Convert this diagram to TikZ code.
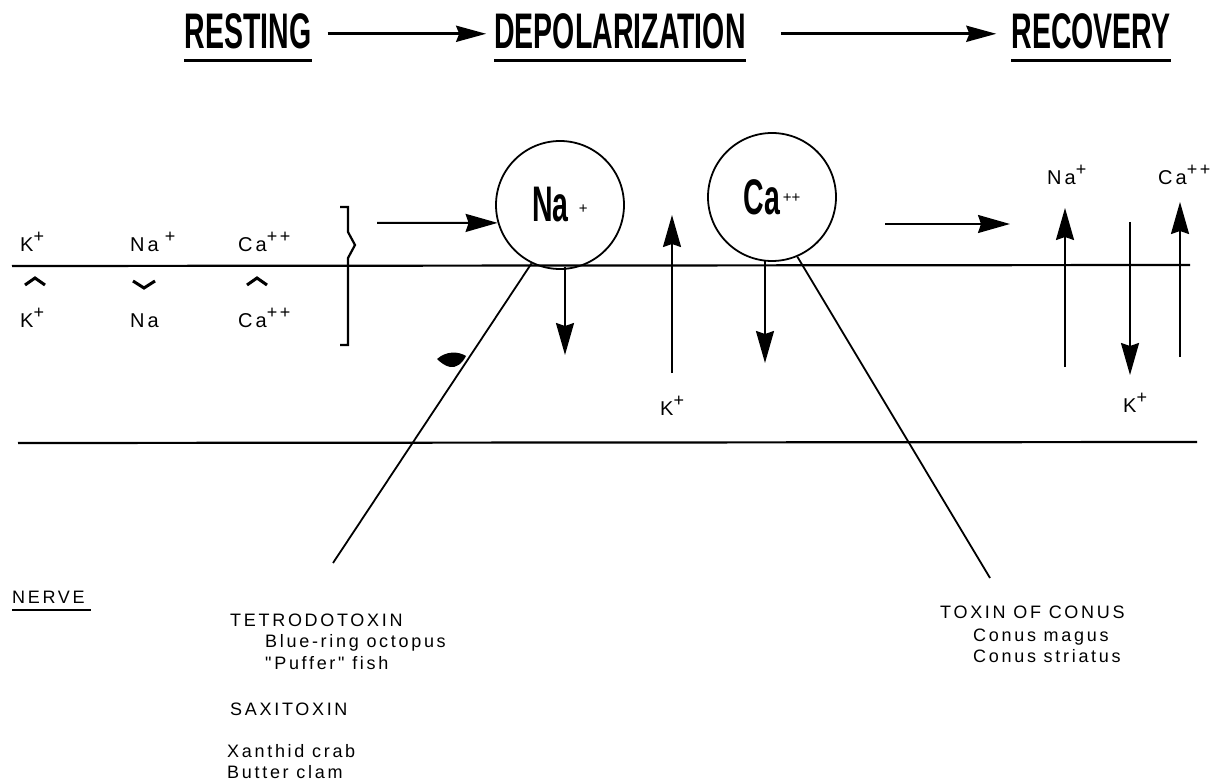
\documentclass[tikz,border=0pt]{standalone}
\usepackage{graphicx}
\usepackage{fontspec}
\setmainfont{Liberation Sans}
\newfontfamily\lblfont[LetterSpace=15]{Liberation Sans}
\usetikzlibrary{arrows.meta}
\newcommand{\cond}[1]{\scalebox{0.57}[1]{\fontsize{50}{50}\selectfont\bfseries #1}}
\newcommand{\chg}[1]{\raisebox{9pt}{\fontsize{18}{18}\selectfont #1}}

\begin{document}
\begin{tikzpicture}[
    x=1pt, y=-1pt,
    phase/.style={inner sep=0pt, anchor=base},
    ion/.style={font=\lblfont\fontsize{20}{20}\selectfont, inner sep=0pt, anchor=base west},
    note/.style={font=\lblfont\fontsize{18}{21}\selectfont, inner sep=0pt, anchor=base west},
    chan/.style={circle, draw, line width=1.8pt, minimum size=128pt, inner sep=0pt},
    head/.style={-{Stealth[length=30pt, width=16pt, inset=3pt]}, line width=3pt},
    flux/.style={-{Stealth[length=32pt, width=18pt, inset=3pt]}, line width=2pt},
    mem/.style={line width=2.2pt},
    uline/.style={line width=2.5pt},
    toxline/.style={line width=1.8pt},
    caret/.style={line width=3pt}
]
    \useasboundingbox (0,0) rectangle (1212,783);

    \node[phase] (rest) at (248,49) {\cond{RESTING}};
    \node[phase] (depol) at (620,49) {\cond{DEPOLARIZATION}};
    \node[phase] (recov) at (1091,49) {\cond{RECOVERY}};

    \draw[head] ([xshift=16pt, yshift=-2pt]rest.east) -- ([xshift=-8pt, yshift=-2pt]depol.west);
    \draw[head] ([xshift=35pt, yshift=-2pt]depol.east) -- ([xshift=-15pt, yshift=-2pt]recov.west);
    \foreach \p in {rest, depol, recov}
        \draw[uline] ([yshift=-11pt]\p.south west) -- ([yshift=-11pt]\p.south east);

    \coordinate (m1L) at (12,266);
    \coordinate (m1R) at (1190,265);
    \coordinate (m2L) at (18,443);
    \coordinate (m2R) at (1197,442);
    \draw[mem] (m1L) -- (m1R);
    \draw[mem] (m2L) -- (m2R);

    \node[ion] (kIn) at (20,252) {K\chg{+}};
    \node[ion] (naIn) at (130,252) {Na\hspace{6pt}\chg{+}};
    \node[ion] (caIn) at (238,252) {Ca\chg{++}};
    \node[ion] (kOut) at (20,327) {K\chg{+}};
    \node[ion] (naOut) at (130,327) {Na};
    \node[ion] (caOut) at (238,327) {Ca\chg{++}};
    \draw[caret] (25,285) -- (35,278) -- (45,285);
    \draw[caret] (133,281) -- (144,288) -- (155,281);
    \draw[caret] (247,285) -- (257,278) -- (267,285);

    \draw[mem] (340,207) -- (348,207) -- (348,232) -- (355,245) -- (348,258) -- (348,345) -- (340,345);

    \node[chan] (na) at (560,205) {\cond{Na}\hspace{10pt}\raisebox{8pt}{\fontsize{15}{15}\selectfont +}\hspace{8pt}};
    \node[chan] (ca) at (772,197) {\cond{Ca}\hspace{3pt}\raisebox{12pt}{\fontsize{15}{15}\selectfont ++}};

    \coordinate (toNa) at (377,223);
    \draw[flux] (toNa) -- (na.196);
    \draw[flux] (565,267) -- (565,355);
    \draw[flux] (672,373) -- (672,215);
    \node[ion] (kMid) at (660,415) {K\chg{+}};
    \draw[flux] (765,261) -- (765,363);

    \draw[flux] (885,224) -- (1010,224);
    \draw[flux] (1065,367) -- (1065,208);
    \draw[flux] (1130,222) -- (1130,375);
    \draw[flux] (1180,357) -- (1180,202);
    \node[ion] (naRec) at (1047,185) {Na\chg{+}};
    \node[ion] (caRec) at (1158,185) {Ca\chg{++}};
    \node[ion] (kRec) at (1123,412) {K\chg{+}};

    \fill (437,359) .. controls (446,351) and (458,351) .. (466,356) .. controls (462,364) and (456,368) .. (450,367) .. controls (445,366) and (440,362) .. (437,359);

    \coordinate (ttxEnd) at (333,563);
    \coordinate (conEnd) at (990,578);
    \draw[toxline] (na.244) -- (ttxEnd);
    \draw[toxline] (ca.293) -- (conEnd);

    \node[note] (nerve) at (12,603) {NERVE};
    \draw[line width=1.5pt] ([yshift=-7pt]nerve.south west) -- ([xshift=6pt, yshift=-7pt]nerve.south east);

    \node[note] (ttx) at (230,626) {TETRODOTOXIN};
    \node[note] (octo) at (265,647) {Blue-ring octopus};
    \node[note] (puff) at (265,669) {"Puffer" fish};
    \node[note] (stx) at (230,715) {SAXITOXIN};
    \node[note] (crab) at (227,757) {Xanthid crab};
    \node[note] (clam) at (227,778) {Butter clam};

    \node[note] (conus) at (940,618) {TOXIN OF CONUS};
    \node[note] (magus) at (973,641) {Conus magus};
    \node[note] (striat) at (973,662) {Conus striatus};
\end{tikzpicture}
\end{document}
